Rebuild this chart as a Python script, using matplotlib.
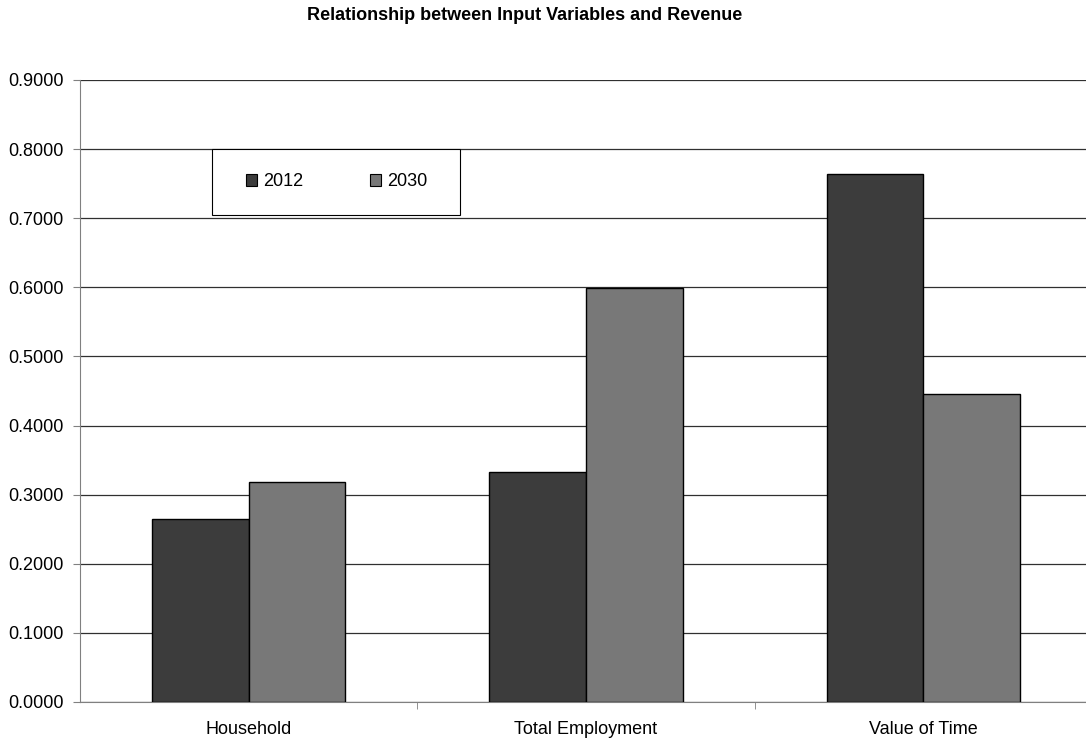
import numpy as np
import matplotlib.pyplot as plt
from matplotlib.patches import Rectangle

plt.rcParams['font.family'] = ['Liberation Sans', 'DejaVu Sans']

categories = ['Household', 'Total Employment', 'Value of Time']
years = ['2012', '2030']
vals_2012 = [0.265, 0.333, 0.764]
vals_2030 = [0.318, 0.599, 0.445]
yticks = [0.0, 0.1, 0.2, 0.3, 0.4, 0.5, 0.6, 0.7, 0.8, 0.9]

W, H = 1086, 740
fs = 13
fig = plt.figure(figsize=(W / 100, H / 100), dpi=100)
ax = fig.add_axes([80 / W, 1 - 702 / H, 1012 / W, 622 / H])

x = np.arange(len(categories))
bw = 0.287
ax.bar(x - bw / 2, vals_2012, bw, color='#3c3c3c', edgecolor='black', linewidth=1.0, label=years[0], zorder=3)
ax.bar(x + bw / 2, vals_2030, bw, color='#787878', edgecolor='black', linewidth=1.0, label=years[1], zorder=3)

ax.set_xlim(-0.5, 2.5)
ax.set_ylim(0, 0.9)
ax.set_yticks(yticks)
ax.set_yticklabels(['%.4f' % v for v in yticks], fontsize=fs)
ax.yaxis.grid(True, color='#303030', linewidth=0.9, zorder=0)

# category labels centred, tick marks on the boundaries between groups
ax.set_xticks(x)
ax.set_xticklabels(categories, fontsize=fs)
ax.tick_params(axis='x', length=0, pad=14)
ax.set_xticks([0.5, 1.5], minor=True)
ax.tick_params(axis='x', which='minor', length=5, color='#808080', direction='out')
ax.tick_params(axis='y', length=5, color='#808080', direction='out', pad=7)

for s in ['top', 'right']:
    ax.spines[s].set_visible(False)
ax.spines['left'].set_color('#808080')
ax.spines['bottom'].set_color('#808080')

# legend box drawn separately so its size can be set freely
box = Rectangle((212 / W, 1 - 215 / H), 248 / W, 66 / H, transform=fig.transFigure,
                facecolor='white', edgecolor='black', linewidth=0.8, zorder=4)
ax.add_patch(box)
box.set_clip_on(False)

leg = ax.legend(loc='center left', ncol=2, bbox_to_anchor=(246 / W, 1 - 182 / H),
                bbox_transform=fig.transFigure, fontsize=fs, frameon=False,
                borderpad=0, borderaxespad=0, handlelength=0.62, handleheight=0.62,
                handletextpad=0.33, columnspacing=3.7)
leg.set_zorder(5)
for p in leg.get_patches():
    p.set_linewidth(0.8)

fig.text(525 / W, 1 - 16 / H, 'Relationship between Input Variables and Revenue',
         ha='center', va='center', fontsize=13, fontweight='bold')

fig.savefig('out.png', dpi=100)
